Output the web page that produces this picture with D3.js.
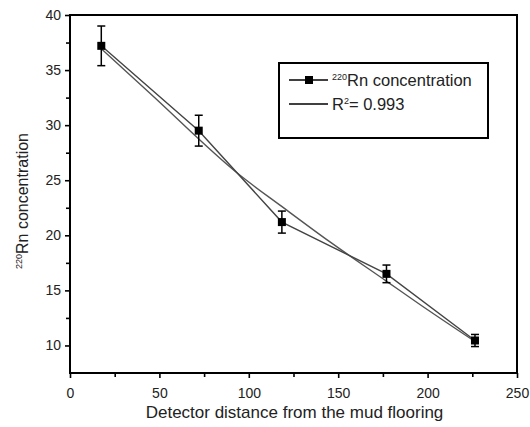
<!DOCTYPE html>
<html lang="en">
<head>
<meta charset="UTF-8" />
<title>Rn concentration vs detector distance</title>
<style>
  body { margin: 0; background: #fff; }
  svg text { font-family: "Liberation Sans", Arial, sans-serif; fill: #222; }
</style>
</head>
<body>
<div id="chart"></div>
<script src="https://cdnjs.cloudflare.com/ajax/libs/d3/7.8.5/d3.min.js"></script>
<script>
// measured points (distance, concentration, error)
var distance = [17.5, 72, 118.5, 177, 226.5];
var concentration = [37.2, 29.5, 21.2, 16.5, 10.45];
var errorBar = [1.8, 1.4, 1.0, 0.8, 0.55];

// fitted curve
var fitX = [17.5, 44.7, 95.1, 118.6, 145.4, 177.3, 195.7, 226.5];
var fitY = [36.93, 32.9, 25.45, 22.6, 19.4, 15.8, 13.72, 10.36];

var xMajor = [0, 50, 100, 150, 200, 250];
var xMinor = [25, 75, 125, 175, 225];
var yMajor = [10, 15, 20, 25, 30, 35, 40];
var yMinor = [12.5, 17.5, 22.5, 27.5, 32.5, 37.5];

var w = 530, h = 427;
var pLeft = 70, pRight = 517, pTop = 15, pBottom = 373;

var svg = d3.select("#chart").append("svg")
  .attr("width", w)
  .attr("height", h);

var xScale = d3.scaleLinear().domain([0, 250]).range([pLeft, pRight]);
var yScale = d3.scaleLinear().domain([7.5, 40]).range([pBottom, pTop]);

// axes
svg.append("g")
  .attr("transform", "translate(0," + pBottom + ")")
  .call(d3.axisBottom(xScale).tickValues(xMajor).tickSize(5).tickPadding(10));
svg.append("g")
  .attr("transform", "translate(0," + pBottom + ")")
  .call(d3.axisBottom(xScale).tickValues(xMinor).tickSize(4).tickFormat(""));

svg.append("g")
  .attr("transform", "translate(" + pLeft + ",0)")
  .call(d3.axisLeft(yScale).tickValues(yMajor).tickSize(5).tickPadding(4));
svg.append("g")
  .attr("transform", "translate(" + pLeft + ",0)")
  .call(d3.axisLeft(yScale).tickValues(yMinor).tickSize(4).tickFormat(""));

svg.selectAll(".domain").remove();
svg.selectAll(".tick line").attr("stroke", "#000").attr("stroke-width", 1.6);
svg.selectAll(".tick text").style("font-size", "14px").attr("fill", "#222");

// frame
svg.append("rect")
  .attr("x", pLeft)
  .attr("y", pTop)
  .attr("width", pRight - pLeft)
  .attr("height", pBottom - pTop)
  .attr("fill", "none")
  .attr("stroke", "#000")
  .attr("stroke-width", 2);

// fit curve
var fitData = fitX.map(function(d, i) { return [d, fitY[i]]; });
var fitLine = d3.line()
  .x(function(d) { return xScale(d[0]); })
  .y(function(d) { return yScale(d[1]); })
  .curve(d3.curveMonotoneX);
svg.append("path")
  .datum(fitData)
  .attr("d", fitLine)
  .attr("fill", "none")
  .attr("stroke", "#555")
  .attr("stroke-width", 1.4);

// data line
var pts = distance.map(function(d, i) { return { x: d, y: concentration[i], e: errorBar[i] }; });
var dataLine = d3.line()
  .x(function(d) { return xScale(d.x); })
  .y(function(d) { return yScale(d.y); });
svg.append("path")
  .datum(pts)
  .attr("d", dataLine)
  .attr("fill", "none")
  .attr("stroke", "#444")
  .attr("stroke-width", 1.4);

// error bars
var eb = svg.selectAll("g.err")
  .data(pts)
  .enter().append("g")
  .attr("class", "err");
eb.append("line")
  .attr("x1", function(d) { return xScale(d.x); })
  .attr("x2", function(d) { return xScale(d.x); })
  .attr("y1", function(d) { return yScale(d.y + d.e); })
  .attr("y2", function(d) { return yScale(d.y - d.e); })
  .attr("stroke", "#000").attr("stroke-width", 1.5);
eb.append("line")
  .attr("x1", function(d) { return xScale(d.x) - 4; })
  .attr("x2", function(d) { return xScale(d.x) + 4; })
  .attr("y1", function(d) { return yScale(d.y + d.e); })
  .attr("y2", function(d) { return yScale(d.y + d.e); })
  .attr("stroke", "#000").attr("stroke-width", 1.5);
eb.append("line")
  .attr("x1", function(d) { return xScale(d.x) - 4; })
  .attr("x2", function(d) { return xScale(d.x) + 4; })
  .attr("y1", function(d) { return yScale(d.y - d.e); })
  .attr("y2", function(d) { return yScale(d.y - d.e); })
  .attr("stroke", "#000").attr("stroke-width", 1.5);

// markers
svg.selectAll("rect.pt")
  .data(pts)
  .enter().append("rect")
  .attr("class", "pt")
  .attr("x", function(d) { return xScale(d.x) - 4; })
  .attr("y", function(d) { return yScale(d.y) - 4; })
  .attr("width", 8)
  .attr("height", 8)
  .attr("fill", "#000");

// axis titles
svg.append("text")
  .attr("x", (pLeft + pRight) / 2 + 1)
  .attr("y", 418)
  .attr("text-anchor", "middle")
  .style("font-size", "17px")
  .text("Detector distance from the mud flooring");

var yt = svg.append("text")
  .attr("transform", "translate(28,201) rotate(-90)")
  .attr("text-anchor", "middle")
  .style("font-size", "16px");
yt.append("tspan").style("font-size", "9px").attr("dy", -6).text("220");
yt.append("tspan").attr("dy", 6).text("Rn concentration");

// legend
var lg = svg.append("g");
lg.append("rect")
  .attr("x", 279).attr("y", 63)
  .attr("width", 209).attr("height", 75)
  .attr("fill", "#fff")
  .attr("stroke", "#000")
  .attr("stroke-width", 2);
lg.append("line")
  .attr("x1", 289).attr("x2", 328).attr("y1", 80).attr("y2", 80)
  .attr("stroke", "#000").attr("stroke-width", 1.4);
lg.append("rect")
  .attr("x", 305).attr("y", 76).attr("width", 8).attr("height", 8)
  .attr("fill", "#000");
var t1 = lg.append("text").attr("x", 332).attr("y", 86).style("font-size", "16.5px");
t1.append("tspan").style("font-size", "9px").attr("dy", -6).text("220");
t1.append("tspan").attr("dy", 6).text("Rn concentration");

lg.append("line")
  .attr("x1", 289).attr("x2", 328).attr("y1", 104).attr("y2", 104)
  .attr("stroke", "#000").attr("stroke-width", 1.4);
var t2 = lg.append("text").attr("x", 332).attr("y", 110).style("font-size", "16.5px");
t2.append("tspan").text("R");
t2.append("tspan").style("font-size", "9px").attr("dy", -6).text("2");
t2.append("tspan").attr("dy", 6).text("= 0.993");
</script>
</body>
</html>
